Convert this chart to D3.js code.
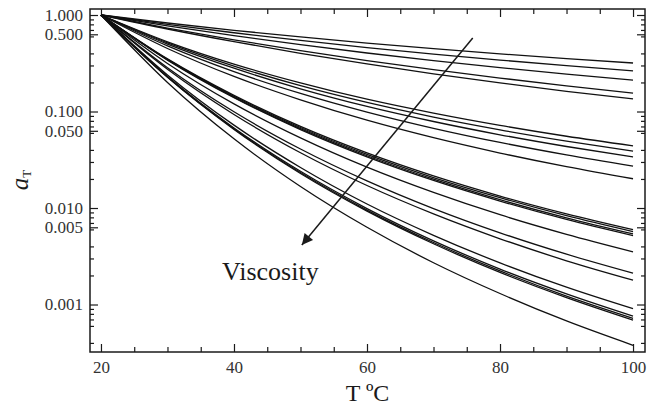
<!DOCTYPE html>
<html><head><meta charset="utf-8">
<script src="https://cdn.jsdelivr.net/npm/d3@7"></script>
<style>html,body{margin:0;padding:0;background:#fff;} svg{display:block;}</style>
</head><body><svg id="chart" width="656" height="412"></svg>
<script>
// ---------- data ----------
const temperatures = [20, 30, 40, 50, 60, 70, 80, 90, 100];

// shift factor a_T read at each temperature, grouped by band (top -> bottom)
const groupA = [
  [1, 0.826, 0.694, 0.593, 0.512, 0.448, 0.396, 0.353, 0.318],
  [1, 0.801, 0.655, 0.545, 0.460, 0.394, 0.341, 0.299, 0.264],
  [1, 0.772, 0.610, 0.492, 0.404, 0.337, 0.285, 0.244, 0.211],
  [1, 0.733, 0.553, 0.427, 0.337, 0.271, 0.222, 0.184, 0.155],
  [1, 0.716, 0.529, 0.401, 0.311, 0.246, 0.198, 0.162, 0.135]
];
const groupB = [
  [1, 0.528, 0.310, 0.198, 0.134, 0.0962, 0.0718, 0.0554, 0.0441],
  [1, 0.515, 0.296, 0.185, 0.124, 0.0874, 0.0645, 0.0493, 0.0388],
  [1, 0.500, 0.281, 0.172, 0.113, 0.0788, 0.0574, 0.0434, 0.0338],
  [1, 0.479, 0.259, 0.154, 0.0986, 0.0670, 0.0478, 0.0355, 0.0272],
  [1, 0.450, 0.231, 0.132, 0.0812, 0.0535, 0.0371, 0.0268, 0.0201]
];
const groupC = [
  [1, 0.351, 0.147, 0.0700, 0.0372, 0.0215, 0.0133, 0.00870, 0.00597],
  [1, 0.347, 0.144, 0.0683, 0.0360, 0.0207, 0.0128, 0.00832, 0.00569],
  [1, 0.344, 0.141, 0.0664, 0.0348, 0.0199, 0.0122, 0.00790, 0.00538],
  [1, 0.341, 0.139, 0.0650, 0.0339, 0.0193, 0.0118, 0.00762, 0.00518],
  [1, 0.315, 0.120, 0.0533, 0.0265, 0.0145, 0.00852, 0.00534, 0.00352]
];
const groupD = [
  [1, 0.284, 0.0993, 0.0409, 0.0191, 0.00986, 0.00553, 0.00332, 0.00211],
  [1, 0.274, 0.0932, 0.0374, 0.0171, 0.00869, 0.00480, 0.00284, 0.00179]
];
const groupE = [
  [1, 0.239, 0.0722, 0.0263, 0.0110, 0.00521, 0.00270, 0.00151, 0.000904],
  [1, 0.230, 0.0676, 0.0240, 0.00987, 0.00457, 0.00233, 0.00129, 0.000759],
  [1, 0.228, 0.0662, 0.0233, 0.00952, 0.00439, 0.00223, 0.00122, 0.000718],
  [1, 0.226, 0.0653, 0.0228, 0.00929, 0.00426, 0.00215, 0.00118, 0.000690]
];
const groupF = [
  [1, 0.200, 0.0521, 0.0167, 0.00631, 0.00271, 0.00130, 0.000675, 0.000378]
];

const xTicks = [20, 40, 60, 80, 100];
const xMinorTicks = [25, 30, 35, 45, 50, 55, 65, 70, 75, 85, 90, 95];
// labelled y ticks as they sit on the original axis
const yTickPositions = [1, 0.631, 0.1, 0.0631, 0.01, 0.00631, 0.001];
const yTickLabels = ["1.000", "0.500", "0.100", "0.050", "0.010", "0.005", "0.001"];
const xTitle = "T \u00BAC";
const annotationText = "Viscosity";
const arrowFrom = [75.9, 0.578];
const arrowTo = [50.2, 0.00414];
const annotationAt = [38.2, 0.00180];

// ---------- layout ----------
const L = 90, R = 645, T = 9, B = 352;
const svg = d3.select("#chart");
const x = d3.scaleLinear().domain([18.35, 101.8]).range([L, R]);
const y = d3.scaleLog().domain([1.154, 3.22e-4]).range([T, B]);

const yMinorTicks = [];
[-4, -3, -2, -1, 0].forEach(k => {
  [2, 3, 4, 6, 7, 8, 9].forEach(m => {
    const v = m * Math.pow(10, k);
    if (v < y.domain()[0] && v > y.domain()[1]) yMinorTicks.push(v);
  });
});

const font = "'Liberation Serif','Times New Roman',serif";
const ink = "#1a1a1a";

function styleAxis(g) {
  g.select(".domain").remove();
  g.selectAll(".tick line").attr("stroke", ink).attr("stroke-width", 1.2);
  g.selectAll(".tick text").attr("font-family", font).attr("font-size", 17).attr("fill", "#333");
}

// bottom
svg.append("g").attr("transform", `translate(0,${B})`)
  .call(d3.axisBottom(x).tickValues(xTicks).tickSize(-8).tickSizeOuter(0).tickPadding(9).tickFormat(d3.format("d")))
  .call(styleAxis);
svg.append("g").attr("transform", `translate(0,${B})`)
  .call(d3.axisBottom(x).tickValues(xMinorTicks).tickSize(-5).tickSizeOuter(0).tickFormat(""))
  .call(styleAxis);
// top
svg.append("g").attr("transform", `translate(0,${T})`)
  .call(d3.axisTop(x).tickValues(xTicks).tickSize(-8).tickSizeOuter(0).tickFormat(""))
  .call(styleAxis);
svg.append("g").attr("transform", `translate(0,${T})`)
  .call(d3.axisTop(x).tickValues(xMinorTicks).tickSize(-5).tickSizeOuter(0).tickFormat(""))
  .call(styleAxis);
// left
svg.append("g").attr("transform", `translate(${L},0)`)
  .call(d3.axisLeft(y).tickValues(yTickPositions).tickSize(-8).tickSizeOuter(0).tickPadding(7).tickFormat((d, i) => yTickLabels[i]))
  .call(styleAxis);
svg.append("g").attr("transform", `translate(${L},0)`)
  .call(d3.axisLeft(y).tickValues(yMinorTicks).tickSize(-4).tickSizeOuter(0).tickFormat(""))
  .call(styleAxis);
// right
svg.append("g").attr("transform", `translate(${R},0)`)
  .call(d3.axisRight(y).tickValues(yTickPositions).tickSize(-8).tickSizeOuter(0).tickFormat(""))
  .call(styleAxis);
svg.append("g").attr("transform", `translate(${R},0)`)
  .call(d3.axisRight(y).tickValues(yMinorTicks).tickSize(-4).tickSizeOuter(0).tickFormat(""))
  .call(styleAxis);

// frame
svg.append("rect").attr("x", L).attr("y", T).attr("width", R - L).attr("height", B - T)
  .attr("fill", "none").attr("stroke", ink).attr("stroke-width", 1.5);

// curves
const allSeries = [].concat(groupA, groupB, groupC, groupD, groupE, groupF);
const line = d3.line()
  .x((d, i) => x(temperatures[i]))
  .y(d => y(d))
  .curve(d3.curveMonotoneX);
svg.append("g").selectAll("path").data(allSeries).join("path")
  .attr("d", line)
  .attr("fill", "none")
  .attr("stroke", "#111")
  .attr("stroke-width", 1.3);

// arrow
const defs = svg.append("defs");
defs.append("marker").attr("id", "head")
  .attr("viewBox", "0 0 10 10").attr("refX", 10).attr("refY", 5)
  .attr("markerWidth", 15).attr("markerHeight", 11).attr("markerUnits", "userSpaceOnUse")
  .attr("orient", "auto")
  .append("path").attr("d", "M0,0 L10,5 L0,10 Z").attr("fill", ink);
svg.append("line")
  .attr("x1", x(arrowFrom[0])).attr("y1", y(arrowFrom[1]))
  .attr("x2", x(arrowTo[0])).attr("y2", y(arrowTo[1]))
  .attr("stroke", ink).attr("stroke-width", 1.5)
  .attr("marker-end", "url(#head)");

svg.append("text")
  .attr("x", x(annotationAt[0])).attr("y", y(annotationAt[1]))
  .attr("font-family", font).attr("font-size", 26).attr("fill", ink)
  .text(annotationText);

// axis titles
svg.append("text")
  .attr("x", (L + R) / 2).attr("y", 401)
  .attr("text-anchor", "middle")
  .attr("font-family", font).attr("font-size", 24).attr("fill", ink)
  .text(xTitle);

const yt = svg.append("text")
  .attr("transform", "translate(28,180) rotate(-90)")
  .attr("text-anchor", "middle")
  .attr("font-family", font).attr("fill", ink);
yt.append("tspan").attr("font-style", "italic").attr("font-size", 25).text("a");
yt.append("tspan").attr("font-size", 13).attr("dy", 3).text("T");
</script>
</body></html>
